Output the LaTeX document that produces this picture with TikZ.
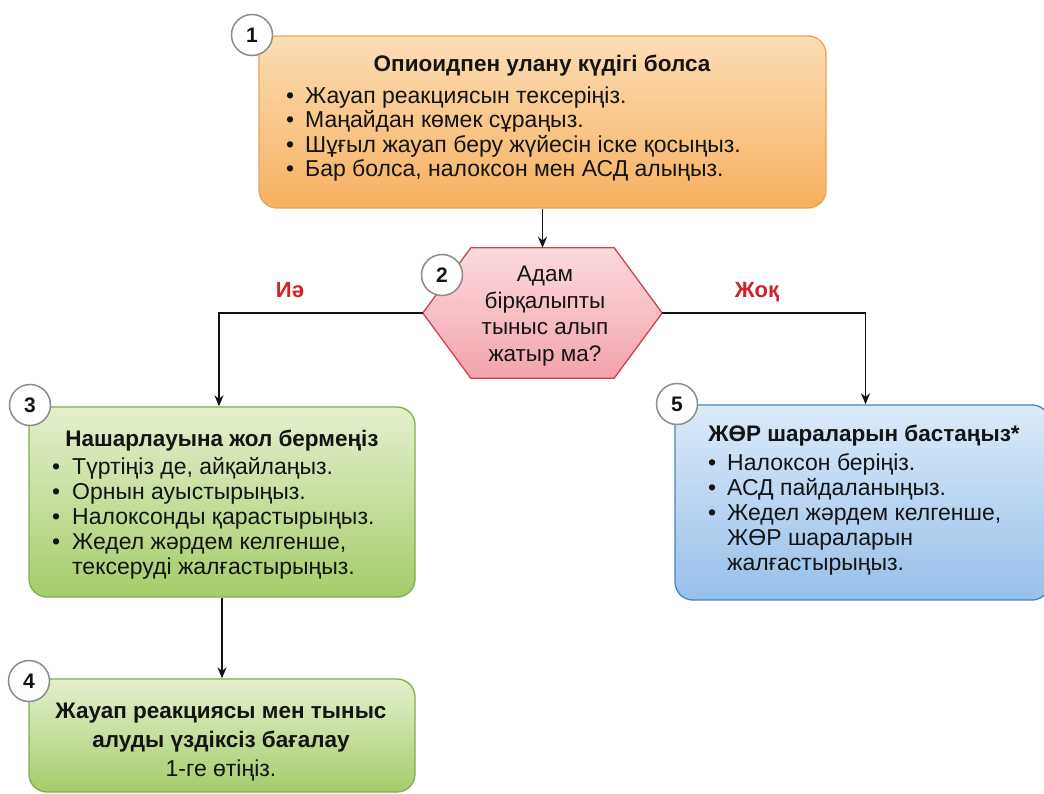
\documentclass[tikz,border=0pt]{standalone}
\usepackage{fontspec}
\setmainfont{Liberation Sans}
\usetikzlibrary{arrows.meta,calc}

\definecolor{orTop}{HTML}{FDDDB5}
\definecolor{orBot}{HTML}{F6B060}
\definecolor{orLine}{HTML}{E8A35A}
\definecolor{grTop}{HTML}{E4F0CD}
\definecolor{grBot}{HTML}{A6CC6A}
\definecolor{grLine}{HTML}{7EAF4C}
\definecolor{blTop}{HTML}{DDEAF8}
\definecolor{blBot}{HTML}{96C0EA}
\definecolor{blLine}{HTML}{4A85C2}
\definecolor{pkTop}{HTML}{FCDADD}
\definecolor{pkBot}{HTML}{F3A3AC}
\definecolor{pkLine}{HTML}{D2404E}
\definecolor{ansRed}{HTML}{D42027}
\definecolor{ringGray}{HTML}{8C8C8C}
\definecolor{ink}{HTML}{141414}

\tikzset{
  box/.style={draw, rounded corners=18pt, line width=1.3pt, inner sep=0pt},
  orangebox/.style={box, top color=orTop, bottom color=orBot, draw=orLine},
  greenbox/.style={box, top color=grTop, bottom color=grBot, draw=grLine},
  bluebox/.style={box, top color=blTop, bottom color=blBot, draw=blLine},
  ring/.style={circle, draw=ringGray, fill=white, line width=1.5pt,
    minimum size=41pt, inner sep=0pt, text=ink,
    font=\bfseries\fontsize{21}{21}\selectfont},
  title/.style={anchor=base, inner sep=0pt, text=ink,
    font=\bfseries\fontsize{22.5}{25}\selectfont},
  item/.style={anchor=base west, inner sep=0pt, text=ink,
    font=\fontsize{23}{25}\selectfont},
  dot/.style={anchor=base west, inner sep=0pt, text=ink,
    font=\fontsize{23}{25}\selectfont},
  answer/.style={anchor=base, inner sep=0pt, text=ansRed,
    font=\bfseries\fontsize{22}{25}\selectfont},
  arr/.style={line width=1.8pt, draw=ink, -{Stealth[length=11pt,width=9pt]}},
}

\begin{document}
\begin{tikzpicture}[x=1pt, y=-1pt]
\useasboundingbox (0,0) rectangle (1044,794);
\fill[white] (0,0) rectangle (1044,794);

% step boxes
\node[orangebox, minimum width=567pt, minimum height=172pt] (b1) at (542.5,122) {};
\node[greenbox,  minimum width=386pt, minimum height=190pt] (b3) at (222,502) {};
\node[bluebox,   minimum width=375pt, minimum height=195pt] (b5) at (862.5,502.5) {};
\node[greenbox,  minimum width=386pt, minimum height=113pt] (b4) at (222,735.5) {};

% decision hexagon
\node[minimum width=239pt, minimum height=130pt, inner sep=0pt] (q) at (542.5,313) {};
\shadedraw[top color=pkTop, bottom color=pkBot, draw=pkLine, line width=1.3pt]
  (q.west) -- ([xshift=48pt]q.north west) -- ([xshift=-48pt]q.north east)
  -- (q.east) -- ([xshift=-48pt]q.south east) -- ([xshift=48pt]q.south west) -- cycle;
\node[align=center, inner sep=0pt, text=ink, font=\fontsize{22.5}{26.7}\selectfont]
  (qt) at (545,316) {Адам\\бірқалыпты\\тыныс алып\\жатыр ма?};

% connectors
\draw[arr] (b1.south) -- (q.north);
\draw[arr] (q.west) -| ([xshift=-3pt]b3.north);
\draw[arr] (q.east) -| ([xshift=3pt]b5.north);
\draw[arr] (b3.south) -- (b4.north);

\node[answer] (yes) at (290,298) {Иә};
\node[answer] (no)  at (757,298) {Жоқ};

% box 1 text
\node[title] (t1) at (542,72) {Опиоидпен улану күдігі болса};
\foreach \t [count=\i] in {Жауап реакциясын тексеріңіз.,
    Маңайдан көмек сұраңыз.,
    Шұғыл жауап беру жүйесін іске қосыңыз.,
    {Бар болса, налоксон мен АСД алыңыз.}} {
  \node[dot]  (d1-\i) at (286,{79+24.5*\i}) {•};
  \node[item] (l1-\i) at (305,{79+24.5*\i}) {\t};
}

% box 3 text
\node[title] (t3) at (222,446) {Нашарлауына жол бермеңіз};
\foreach \t [count=\i] in {{Түртіңіз де, айқайлаңыз.},
    Орнын ауыстырыңыз.,
    Налоксонды қарастырыңыз.,
    {Жедел жәрдем келгенше,}} {
  \node[dot]  (d3-\i) at (52,{449+25*\i}) {•};
  \node[item] (l3-\i) at (72,{449+25*\i}) {\t};
}
\node[item] (l3-5) at (72,574) {тексеруді жалғастырыңыз.};

% box 5 text
\node[title] (t5) at (864,441) {ЖӨР шараларын бастаңыз*};
\foreach \t [count=\i] in {Налоксон беріңіз.,
    АСД пайдаланыңыз.,
    {Жедел жәрдем келгенше,}} {
  \node[dot]  (d5-\i) at (708,{445+25*\i}) {•};
  \node[item] (l5-\i) at (727,{445+25*\i}) {\t};
}
\node[item] (l5-4) at (727,545) {ЖӨР шараларын};
\node[item] (l5-5) at (727,570) {жалғастырыңыз.};

% box 4 text
\node[title] (t4a) at (221,718) {Жауап реакциясы мен тыныс};
\node[title] (t4b) at (221,747) {алуды үздіксіз бағалау};
\node[title, font=\fontsize{23}{25}\selectfont] (t4c) at (221,776) {1-ге өтіңіз.};

% step numbers
\node[ring] (n1) at (252,35)  {1};
\node[ring] (n2) at (442,275) {2};
\node[ring] (n3) at (30,405)  {3};
\node[ring] (n4) at (29,681)  {4};
\node[ring] (n5) at (677,404) {5};
\end{tikzpicture}
\end{document}
